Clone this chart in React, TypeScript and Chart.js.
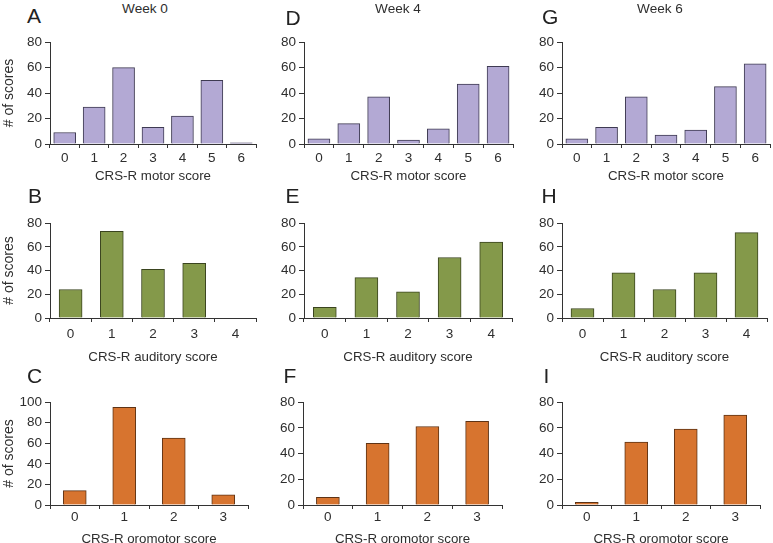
import React, { useEffect, useRef } from 'react';
import { Chart, registerables } from 'chart.js';

Chart.register(...registerables);

const FONT = '"Liberation Sans", Arial, Helvetica, sans-serif';
const TEXT = '#2e2e2e';
const AXIS = '#333333';

// ---- data ----
const motorLabels = ['0', '1', '2', '3', '4', '5', '6'];
const auditoryLabels = ['0', '1', '2', '3', '4'];
const oromotorLabels = ['0', '1', '2', '3'];

const motorWeek0 = [9, 29, 60, 13, 22, 50, 1];
const motorWeek4 = [4, 16, 37, 3, 12, 47, 61];
const motorWeek6 = [4, 13, 37, 7, 11, 45, 63];

const auditoryWeek0 = [24, 73, 41, 46, 0];
const auditoryWeek4 = [9, 34, 22, 51, 64];
const auditoryWeek6 = [8, 38, 24, 38, 72];

const oromotorWeek0 = [14, 95, 65, 10];
const oromotorWeek4 = [6, 48, 61, 65];
const oromotorWeek6 = [2, 49, 59, 70];

const weekTitles = ['Week 0', 'Week 4', 'Week 6'];
const panelLetters = ['A', 'B', 'C', 'D', 'E', 'F', 'G', 'H', 'I'];
const yAxisTitle = '# of scores';
const xTitles = ['CRS-R motor score', 'CRS-R auditory score', 'CRS-R oromotor score'];

// ---- styles ----
const PURPLE = { fill: '#b3a9d4', stroke: '#3e3a52' };
const GREEN = { fill: '#84994a', stroke: '#3a441f' };
const ORANGE = { fill: '#d7742f', stroke: '#5e3315' };

const TICK_SIZE = 13.5;
const TITLE_SIZE = 13.3;

type PanelProps = {
  x: number;
  chartLeft: number;
  chartRight: number;
  chartTop: number;
  chartBottom: number;
  xAxisH: number;
  xTickPad: number;
  labels: string[];
  values: number[];
  fill: string;
  stroke: string;
  yMax: number;
  barW: number;
  showYTitle: boolean;
  xTitle: string;
};

const PAD_TOP = 10;
const PAD_RIGHT = 3;

function Panel(p: PanelProps) {
  const ref = useRef<HTMLCanvasElement>(null);
  const width = p.chartRight - p.x + PAD_RIGHT;
  const height = PAD_TOP + (p.chartBottom - p.chartTop) + p.xAxisH;

  useEffect(() => {
    const yW = p.chartLeft - p.x;
    const chart = new Chart(ref.current as HTMLCanvasElement, {
      type: 'bar',
      data: {
        labels: p.labels,
        datasets: [
          {
            data: p.values,
            backgroundColor: p.fill,
            borderColor: p.stroke,
            borderWidth: 1,
            barThickness: p.barW,
          },
        ],
      },
      options: {
        animation: false,
        responsive: false,
        maintainAspectRatio: false,
        events: [],
        layout: { padding: { top: PAD_TOP, right: PAD_RIGHT, left: 0, bottom: 0 } },
        plugins: { legend: { display: false }, tooltip: { enabled: false } },
        scales: {
          x: {
            type: 'category',
            offset: true,
            grid: {
              display: true,
              offset: true,
              drawOnChartArea: false,
              drawTicks: true,
              tickLength: 4,
              color: AXIS,
              lineWidth: 1,
            },
            border: { display: true, color: AXIS, width: 1 },
            ticks: {
              color: TEXT,
              font: { family: FONT, size: TICK_SIZE },
              padding: p.xTickPad,
              maxRotation: 0,
              autoSkip: false,
            },
            title: {
              display: true,
              text: p.xTitle,
              color: TEXT,
              font: { family: FONT, size: TITLE_SIZE },
              padding: 0,
            },
            afterFit: (s: any) => {
              s.height = p.xAxisH;
            },
          },
          y: {
            min: 0,
            max: p.yMax,
            ticks: {
              stepSize: 20,
              color: TEXT,
              font: { family: FONT, size: TICK_SIZE },
              padding: 3,
            },
            grid: {
              display: true,
              drawOnChartArea: false,
              drawTicks: true,
              tickLength: 5,
              color: AXIS,
              lineWidth: 1,
            },
            border: { display: true, color: AXIS, width: 1 },
            title: {
              display: p.showYTitle,
              text: yAxisTitle,
              color: TEXT,
              font: { family: FONT, size: TITLE_SIZE + 0.7 },
              padding: { top: 1, bottom: 0 },
            },
            afterFit: (s: any) => {
              s.width = yW;
            },
          },
        },
      },
    });
    return () => chart.destroy();
  }, []);

  return (
    <canvas
      ref={ref}
      width={width}
      height={height}
      style={{
        position: 'absolute',
        left: p.x,
        top: p.chartTop - PAD_TOP,
        width,
        height,
        display: 'block',
      }}
    />
  );
}

const colX = [0, 255, 510];
const rows = [
  { top: 41, bottom: 144, xAxisH: 40, xTickPad: 2, barW: 22, cols: [[50, 256], [304, 513], [562, 770]] },
  { top: 222, bottom: 318, xAxisH: 47, xTickPad: 4, barW: 23, cols: [[50, 256], [304, 512], [562, 767]] },
  { top: 401, bottom: 505, xAxisH: 42, xTickPad: 0, barW: 23, cols: [[50, 248], [303, 502], [562, 760]] },
];

const rowLabels = [motorLabels, auditoryLabels, oromotorLabels];
const rowValues = [
  [motorWeek0, motorWeek4, motorWeek6],
  [auditoryWeek0, auditoryWeek4, auditoryWeek6],
  [oromotorWeek0, oromotorWeek4, oromotorWeek6],
];
const rowColors = [PURPLE, GREEN, ORANGE];
const yMaxes = [
  [80, 80, 80],
  [80, 80, 80],
  [100, 80, 80],
];

const letterPos = [
  [27, 5], [28, 185], [27, 365],
  [285.5, 7], [285.5, 185], [283.5, 365],
  [542, 6], [541.5, 185], [543.5, 365],
];
const weekCenters = [145, 398, 660];

export default function App() {
  const panels: React.ReactNode[] = [];
  rows.forEach((r, ri) => {
    r.cols.forEach((c, ci) => {
      panels.push(
        <Panel
          key={`${ri}-${ci}`}
          x={colX[ci]}
          chartLeft={c[0]}
          chartRight={c[1]}
          chartTop={r.top}
          chartBottom={r.bottom}
          xAxisH={r.xAxisH}
          xTickPad={r.xTickPad}
          labels={rowLabels[ri]}
          values={rowValues[ri][ci]}
          fill={rowColors[ri].fill}
          stroke={rowColors[ri].stroke}
          yMax={yMaxes[ri][ci]}
          barW={r.barW}
          showYTitle={ci === 0}
          xTitle={xTitles[ri]}
        />
      );
    });
  });

  return (
    <div
      style={{
        position: 'fixed',
        left: 0,
        top: 0,
        width: 773,
        height: 543,
        overflow: 'hidden',
        background: '#ffffff',
        fontFamily: FONT,
        color: TEXT,
      }}
    >
      {panels}
      {weekTitles.map((t, i) => (
        <div
          key={t}
          style={{
            position: 'absolute',
            left: weekCenters[i],
            top: 1.5,
            transform: 'translateX(-50%)',
            fontSize: 13.6,
            lineHeight: '14px',
            whiteSpace: 'nowrap',
          }}
        >
          {t}
        </div>
      ))}
      {panelLetters.map((l, i) => (
        <div
          key={l}
          style={{
            position: 'absolute',
            left: letterPos[i][0],
            top: letterPos[i][1],
            fontSize: 21,
            lineHeight: '21px',
            color: '#222',
          }}
        >
          {l}
        </div>
      ))}
    </div>
  );
}
